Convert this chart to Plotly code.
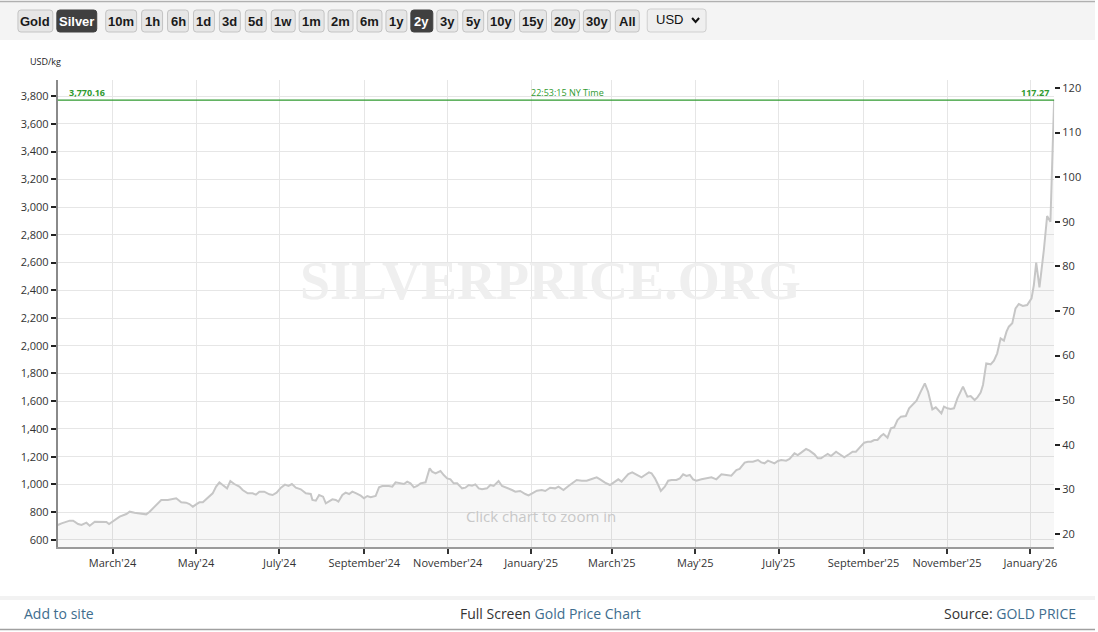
import plotly.graph_objects as go
import pandas as pd

W, H = 1098, 632

# ---------------- data ----------------
start_date = "2024-01-21"
day_offsets = [
    0, 2.7, 8.7, 11.2, 14.8, 17.3, 20.9, 23.3, 27.0, 33.0, 35.5, 37.4, 40.3, 45.2, 50.1, 52.5,
    56.1, 59.8, 64.6, 67.1, 70.7, 75.6, 80.4, 84.1, 86.5, 90.2, 93.8, 96.2, 98.7, 101.1, 103.5,
    106.0, 109.6, 113.2, 115.7, 118.1, 120.5, 123.7, 126.1, 129.0, 132.7, 135.1, 138.8, 142.4,
    144.8, 147.3, 150.9, 154.6, 157.0, 159.9, 163.1, 166.0, 168.6, 171.1, 174.0, 177.6, 181.3,
    184.9, 186.1, 188.6, 191.0, 193.9, 195.9, 198.3, 200.7, 203.2, 205.1, 208.0, 210.4, 212.9,
    215.3, 218.2, 221.4, 223.8, 226.2, 228.7, 232.3, 234.8, 237.2, 242.0, 244.5, 246.9, 250.5,
    253.0, 255.4, 257.8, 260.3, 262.7, 265.1, 268.8, 271.8,
    273.6, 276.1, 279.7, 282.1, 284.6, 287.0, 289.4, 291.9, 295.5, 297.9, 300.4, 302.8, 305.2,
    307.7, 310.1, 313.7, 316.2, 318.6, 322.2, 324.7, 328.3, 332.0, 334.4, 338.0, 341.7, 344.1,
    347.7, 350.2, 353.8, 356.3, 359.9, 363.5, 366.0, 369.6, 373.3, 379.3, 383.0, 386.6, 390.3,
    393.9, 396.4, 400.0, 403.6, 407.3, 409.7, 412.1, 414.6, 417.0, 419.9, 423.1, 426.7, 429.2,
    432.1, 434.0, 436.5, 438.9, 440.8, 443.7, 446.2, 448.6, 452.2, 454.7, 457.1, 459.5, 462.0,
    464.4, 466.8, 470.5, 474.1, 477.8, 481.4, 485.1, 488.7, 492.3, 496.0, 498.4, 502.1, 504.5,
    508.1, 511.8, 514.2, 516.6, 519.1, 521.5, 523.9, 526.4, 528.8, 532.4, 534.9, 538.5, 540.9,
    543.4, 547.0, 549.5, 553.1,
    555.5, 557.9, 560.4, 562.8, 565.2, 568.9, 571.3, 574.9, 578.6, 581.0, 583.4, 585.9, 589.5,
    592.0, 594.4, 596.8, 599.2, 601.7, 603.6, 606.5, 609.0, 611.4, 613.8, 616.3, 619.9, 622.3,
    624.8, 627.7, 630.8, 633.8, 636.2, 639.3, 641.8, 644.2, 645.9, 647.8, 650.3, 652.7, 655.1,
    657.6, 661.7, 664.9, 667.3, 670.2, 672.2, 674.6, 676.3, 678.7, 681.9, 684.3, 686.7, 689.2,
    691.6, 693.5, 695.2, 697.7, 700.1, 702.5, 705.4, 708.6, 711.8, 713.5, 715.2, 717.6, 719.1,
    720.8, 723.2, 725.6, 728.3,
]
price_usd_oz = [
    22.02, 22.40, 23.00, 23.00, 22.25, 22.02, 22.55, 21.87, 22.77, 22.77, 22.70, 22.25, 22.92,
    23.89, 24.49, 25.01, 24.79, 24.64, 24.41, 25.01, 26.13, 27.63, 27.63, 27.85, 28.00, 27.10,
    27.03, 26.73, 26.13, 26.66, 27.10, 27.10, 28.23, 29.12, 30.62, 31.59, 30.99, 30.24, 31.89,
    31.21, 30.62, 29.87, 29.12, 29.12, 28.82, 29.50, 29.50, 28.90, 28.75, 29.27, 30.39, 31.07,
    30.77, 31.21, 30.39, 30.02, 29.12, 28.97, 27.63, 27.48, 28.75, 28.37, 26.88, 27.25, 27.78,
    27.63, 27.25, 28.75, 29.27, 28.97, 29.50, 29.12, 28.60, 28.00, 28.52, 28.23, 28.52, 30.47,
    30.77, 30.77, 30.62, 31.59, 31.36, 31.21, 31.74, 31.36, 30.47, 30.77, 31.36, 31.59, 34.73,
    33.98, 33.61, 34.13, 33.23, 32.48, 32.26, 31.36, 31.36, 30.24, 30.39, 30.99, 30.84, 31.14,
    30.24, 30.02, 30.24, 30.99, 30.77, 31.89, 30.77, 30.39, 29.87, 29.50, 29.65, 28.97, 28.67,
    29.27, 29.72, 29.87, 29.65, 30.39, 30.24, 30.62, 29.87, 30.77, 32.11, 31.96, 31.96, 32.33,
    32.71, 32.26, 31.51, 30.99, 31.89, 32.26, 31.74, 32.71, 33.46, 33.83, 33.38, 32.71, 33.23,
    33.83, 33.61, 32.48, 30.99, 29.65, 30.62, 31.96, 32.11, 32.11, 32.48, 33.38, 33.01, 33.23,
    32.26, 31.96, 32.26, 32.48, 32.71, 32.26, 33.38, 33.23, 33.08, 34.35, 34.58, 36.00, 36.22,
    36.22, 36.59, 36.07, 35.85, 36.45, 36.07, 35.85, 36.37, 36.59, 36.45, 36.82, 38.09, 37.71,
    38.24, 39.06, 38.69, 37.86,
    36.97, 36.97, 37.49, 37.94, 37.49, 38.46, 37.94, 37.19, 37.94, 38.46, 38.46, 39.21, 40.48,
    40.70, 40.70, 41.08, 41.08, 41.97, 42.42, 41.60, 43.69, 43.92, 45.56, 46.31, 46.46, 48.18,
    48.92, 49.89, 51.91, 53.78, 51.91, 47.95, 48.40, 47.58, 47.06, 48.55, 48.18, 48.03, 48.18,
    50.42, 53.03, 50.79, 50.94, 50.04, 50.64, 51.69, 53.41, 58.26, 58.04, 58.86, 60.51, 63.87,
    63.35, 65.36, 66.48, 67.23, 70.59, 71.56, 71.12, 71.34, 72.83, 75.82, 80.83, 75.30, 79.19,
    83.67, 91.29, 90.02, 117.27,
]
last_price_kg = 3770.16
last_price_oz = 117.27
time_label = "22:53:15 NY Time"
OZ_PER_KG = 32.1507
left_ticks = list(range(600, 3801, 200))
right_ticks = list(range(20, 121, 10))
range_buttons = ["Gold", "Silver", "10m", "1h", "6h", "1d", "3d", "5d", "1w", "1m", "2m",
                 "6m", "1y", "2y", "3y", "5y", "10y", "15y", "20y", "30y", "All"]
selected_buttons = ["Silver", "2y"]

dates = list(pd.Timestamp(start_date) + pd.to_timedelta(day_offsets, unit="D"))

# ---------------- helpers (pixel -> paper) ----------------
def X(px):
    return px / W


def Y(py):
    return 1 - py / H


def rrect(x0, y0, x1, y1, r=3):
    rx, ry = r / W, r / H
    a, b, c, d = X(x0), Y(y0), X(x1), Y(y1)
    return (f"M{a+rx},{b} L{c-rx},{b} Q{c},{b} {c},{b-ry} L{c},{d+ry} Q{c},{d} {c-rx},{d} "
            f"L{a+rx},{d} Q{a},{d} {a},{d+ry} L{a},{b-ry} Q{a},{b} {a+rx},{b} Z")


PLOT_L, PLOT_R, PLOT_T, PLOT_B = 58, 1057, 80, 547
y_lo, y_hi = 549.5, 3915.3

fig = go.Figure()
fig.add_trace(go.Scatter(
    x=dates, y=price_usd_oz, yaxis="y2", mode="lines",
    line=dict(color="#c6c6c6", width=2),
    fill="tozeroy", fillcolor="rgba(0,0,0,0.03)",
    hoverinfo="skip",
))

tickfont = dict(family="Open Sans, Noto Sans, sans-serif", size=11, color="#333")
fig.update_layout(
    width=W, height=H, autosize=False,
    margin=dict(l=0, r=0, t=0, b=0),
    paper_bgcolor="white", plot_bgcolor="white",
    showlegend=False,
    xaxis=dict(
        domain=[X(PLOT_L), X(PLOT_R)], type="date",
        range=[dates[0], dates[-1]],
        tick0="2024-03-01", dtick="M2", tickformat="%B'%y",
        ticks="outside", ticklen=5, tickwidth=2, tickcolor="#333",
        showgrid=True, gridcolor="#e6e6e6", gridwidth=1,
        showline=True, linecolor="#9a9a9a", linewidth=2,
        tickfont=tickfont, zeroline=False, fixedrange=True,
    ),
    yaxis=dict(
        domain=[Y(PLOT_B), Y(PLOT_T)], range=[y_lo, y_hi],
        tickvals=left_ticks, tickformat=",",
        ticks="outside", ticklen=5, tickwidth=2, tickcolor="#222",
        showgrid=True, gridcolor="#e6e6e6", gridwidth=1,
        showline=True, linecolor="#8a8a8a", linewidth=2,
        tickfont=tickfont, zeroline=False, fixedrange=True,
    ),
    yaxis2=dict(
        overlaying="y", side="right", anchor="x",
        range=[y_lo / OZ_PER_KG, y_hi / OZ_PER_KG],
        tickvals=right_ticks,
        ticks="outside", ticklen=5, tickwidth=2, tickcolor="#222",
        showgrid=False, showline=False, zeroline=False,
        tickfont=tickfont, fixedrange=True,
    ),
)

shapes = []
annotations = []

# toolbar background + top border
shapes.append(dict(type="rect", xref="paper", yref="paper", x0=0, x1=1, y0=Y(40), y1=Y(2),
                   fillcolor="#f4f4f4", line=dict(width=0), layer="below"))
shapes.append(dict(type="line", xref="paper", yref="paper", x0=0, x1=1, y0=Y(1.5), y1=Y(1.5),
                   line=dict(color="#b0b0b0", width=1.5)))

btn_x = [(18, 53), (57, 97), (106, 137), (142, 163), (168, 189), (194, 215), (220, 241),
         (246, 267), (272, 296), (300, 325), (329, 354), (358, 383), (387, 408), (412, 434),
         (438, 459), (464, 485), (489, 516), (521, 548), (553, 581), (585, 612), (617, 641)]
for label, (x0, x1) in zip(range_buttons, btn_x):
    sel = label in selected_buttons
    shapes.append(dict(type="path", xref="paper", yref="paper", path=rrect(x0, 10, x1, 32),
                       fillcolor="#404040" if sel else "#e6e6e6",
                       line=dict(color="#404040" if sel else "#c4c4c4", width=1)))
    annotations.append(dict(xref="paper", yref="paper", x=X((x0 + x1) / 2), y=Y(21.5),
                            text=f"<b>{label}</b>", showarrow=False,
                            xanchor="center", yanchor="middle",
                            font=dict(family="Liberation Sans Narrow, Liberation Sans, Arial",
                                      size=13, color="white" if sel else "#1a1a1a")))
# currency dropdown
shapes.append(dict(type="path", xref="paper", yref="paper", path=rrect(649, 9, 708, 32),
                   fillcolor="#efefef", line=dict(color="#cfcfcf", width=1)))
annotations.append(dict(xref="paper", yref="paper", x=X(656), y=Y(20), text="USD",
                        showarrow=False, xanchor="left", yanchor="middle",
                        font=dict(family="Liberation Sans, Arial", size=13, color="#111")))
shapes.append(dict(type="path", xref="paper", yref="paper",
                   path=f"M{X(694)},{Y(18)} L{X(697.5)},{Y(22)} L{X(701)},{Y(18)}",
                   line=dict(color="#111", width=2)))

# unit label
annotations.append(dict(xref="paper", yref="paper", x=X(28), y=Y(62), text="USD/kg",
                        showarrow=False, xanchor="left", yanchor="middle",
                        font=dict(family="Open Sans, Noto Sans, sans-serif", size=9, color="#222")))

# watermark
annotations.append(dict(xref="paper", yref="paper", x=X(552), y=Y(281), text="<b>SILVERPRICE.ORG</b>",
                        showarrow=False, xanchor="center", yanchor="middle",
                        font=dict(family="Liberation Serif, Times New Roman, serif", size=54,
                                  color="#efefef")))
annotations.append(dict(xref="paper", yref="paper", x=X(542), y=Y(516), text="Click chart to zoom in",
                        showarrow=False, xanchor="center", yanchor="middle",
                        font=dict(family="Open Sans, sans-serif", size=15, color="#c8c8c8")))

# last price line + labels
green = "#2f9a2f"
shapes.append(dict(type="line", xref="paper", yref="y", x0=X(PLOT_L), x1=X(PLOT_R),
                   y0=last_price_kg, y1=last_price_kg, line=dict(color=green, width=1.3)))
annotations.append(dict(xref="paper", yref="y", x=X(67), y=last_price_kg,
                        text=f"<b>{last_price_kg:,.2f}</b>", showarrow=False,
                        xanchor="left", yanchor="bottom", yshift=-1,
                        font=dict(family="Open Sans, Noto Sans, sans-serif", size=9, color=green)))
annotations.append(dict(xref="paper", yref="y", x=X(569), y=last_price_kg,
                        text=time_label, showarrow=False,
                        xanchor="center", yanchor="bottom", yshift=-1,
                        font=dict(family="Open Sans, Noto Sans, sans-serif", size=9, color=green)))
annotations.append(dict(xref="paper", yref="y", x=X(1054), y=last_price_kg,
                        text=f"<b>{last_price_oz:.2f}</b>", showarrow=False,
                        xanchor="right", yanchor="bottom", yshift=-1,
                        font=dict(family="Open Sans, Noto Sans, sans-serif", size=9, color=green)))

# footer
shapes.append(dict(type="rect", xref="paper", yref="paper", x0=0, x1=1, y0=Y(600), y1=Y(596),
                   fillcolor="#f2f2f2", line=dict(width=0)))
shapes.append(dict(type="line", xref="paper", yref="paper", x0=0, x1=1, y0=Y(629.5), y1=Y(629.5),
                   line=dict(color="#a0a0a0", width=1.5)))
link = "#3e6d8e"
ffont = dict(family="Open Sans, Noto Sans, sans-serif", size=14, color=link)
annotations.append(dict(xref="paper", yref="paper", x=X(22), y=Y(613), text="Add to site",
                        showarrow=False, xanchor="left", yanchor="middle", font=ffont))
annotations.append(dict(xref="paper", yref="paper", x=X(552), y=Y(613),
                        text=f"<span style='color:#333'>Full Screen</span> Gold Price Chart",
                        showarrow=False, xanchor="center", yanchor="middle", font=ffont))
annotations.append(dict(xref="paper", yref="paper", x=X(1081), y=Y(613),
                        text=f"<span style='color:#333'>Source:</span> GOLD PRICE",
                        showarrow=False, xanchor="right", yanchor="middle", font=ffont))

fig.update_layout(shapes=shapes, annotations=annotations)

fig.write_html("out.html", config={"displayModeBar": False},
               post_script="document.body.style.margin='0';document.body.style.overflow='hidden';")
